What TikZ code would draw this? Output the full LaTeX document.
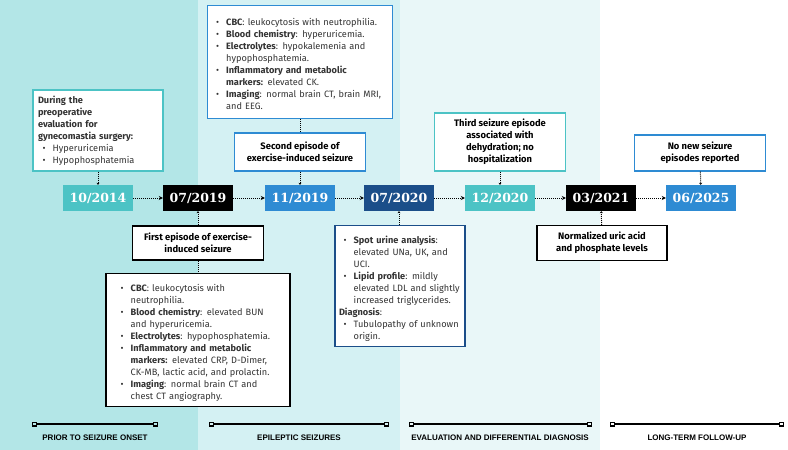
\documentclass[tikz,border=0pt]{standalone}
\usepackage{fontspec}
\setmainfont{Fira Sans}
\newfontfamily\datefont{DejaVu Serif}
\newfontfamily\lblfont{Liberation Sans}
\usetikzlibrary{arrows.meta}
\definecolor{bgA}{HTML}{B3E6E7}
\definecolor{bgB}{HTML}{D4F1F3}
\definecolor{bgC}{HTML}{E9F7F8}
\definecolor{cteal}{HTML}{4CC3C5}
\definecolor{cblue}{HTML}{2E8BD3}
\definecolor{cnavy}{HTML}{1B4E89}
\definecolor{txt}{HTML}{333333}
\newcommand{\itm}[1]{\par\hangindent=1.6em\hangafter=1\hspace*{0.5em}\makebox[1.1em][l]{\textbullet}#1\par}
\tikzset{
 x=1pt,y=-1pt,
 date/.style={fill=#1,text=white,font=\datefont\bfseries\fontsize{12.5}{14}\selectfont,minimum width=70,minimum height=26,inner sep=0},
 box/.style={draw=#1,line width=1.1pt,fill=white,inner sep=4pt,font=\fontsize{9.2}{12}\selectfont\color{txt}},
 hd/.style={font=\bfseries\fontsize{9.4}{12}\selectfont,align=center},
 con/.style={densely dotted,line width=1pt,-{Stealth[length=4pt,width=4pt]}},
 cons/.style={densely dotted,line width=1pt,-{Stealth[length=2pt,width=3pt]}},
 conn/.style={densely dotted,line width=1pt},
 seg/.style={line width=1.2pt,{Square[open,length=5pt,width=5pt]}-{Square[open,length=5pt,width=5pt]}},
 lbl/.style={font=\lblfont\bfseries\fontsize{8}{9}\selectfont}
}
\begin{document}
\begin{tikzpicture}
\useasboundingbox (0,0) rectangle (788,450);
\fill[bgA] (0,0) rectangle (198,450);
\fill[bgB] (198,0) rectangle (400,450);
\fill[bgC] (400,0) rectangle (600,450);
% dates
\node[date=cteal] (d1) at (98,198) {10/2014};
\node[date=black] (d2) at (198,198) {07/2019};
\node[date=cblue] (d3) at (300,198) {11/2019};
\node[date=cnavy] (d4) at (399,198) {07/2020};
\node[date=cteal] (d5) at (500,198) {12/2020};
\node[date=black] (d6) at (601,198) {03/2021};
\node[date=cblue] (d7) at (701,198) {06/2025};
\foreach \a/\b in {d1/d2,d2/d3,d3/d4,d4/d5,d5/d6,d6/d7} \draw[con] (\a) -- (\b);
% boxes
\node[box=cteal,minimum width=130,minimum height=81,text width=120] (bA) at (98,130.5) {\raggedright\textbf{During the\\preoperative\\evaluation for\\gynecomastia surgery:}\itm{Hyperuricemia}\itm{Hypophosphatemia}};
\node[box=cblue,minimum width=185,minimum height=113,text width=177] (bT) at (300,62) {\raggedright
\itm{\textbf{CBC}: leukocytosis with neutrophilia.}\itm{\textbf{Blood chemistry}: hyperuricemia.}\itm{\textbf{Electrolytes}: hypokalemenia and\newline hypophosphatemia.}\itm{\textbf{Inflammatory and metabolic\newline markers:} elevated CK.}\itm{\textbf{Imaging}: normal brain CT, brain MRI,\newline and EEG.}};
\node[box=cblue,minimum width=131,minimum height=38,hd] (bS) at (300,152) {Second episode of\\exercise-induced seizure};
\node[box=black,minimum width=131,minimum height=34,hd] (bF) at (198,243) {First episode of exercise-\\induced seizure};
\node[box=black,minimum width=184,minimum height=133,text width=164] (bC) at (198,340) {\raggedright
\itm{\textbf{CBC}: leukocytosis with\newline neutrophilia.}\itm{\textbf{Blood chemistry}: elevated BUN\newline and hyperuricemia.}\itm{\textbf{Electrolytes}: hypophosphatemia.}\itm{\textbf{Inflammatory and metabolic\newline markers:} elevated CRP, D-Dimer,\newline CK-MB, lactic acid, and prolactin.}\itm{\textbf{Imaging}: normal brain CT and\newline chest CT angiography.}};
\node[box=cnavy,minimum width=130,minimum height=121,text width=122] (bE) at (400,286) {\raggedright
\itm{\textbf{Spot urine analysis}:\newline elevated UNa, UK, and\newline UCI.}\itm{\textbf{Lipid profile}: mildly\newline elevated LDL and slightly\newline increased triglycerides.}\textbf{Diagnosis}:\itm{Tubulopathy of unknown\newline origin.}};
\node[box=cteal,minimum width=131,minimum height=58,hd] (bH) at (500,142) {Third seizure episode\\associated with\\dehydration; no\\hospitalization};
\node[box=black,minimum width=130,minimum height=35,hd] (bN) at (602,243) {Normalized uric acid\\and phosphate levels};
\node[box=cblue,minimum width=131,minimum height=36,hd] (bX) at (700,153) {No new seizure\\episodes reported};
% connectors
\draw[cons] (bA) -- (d1);
\draw[cons] (bS) -- (d3);
\draw[conn] (bT) -- (bS);
\draw[cons] (bF) -- (d2);
\draw[conn] (bF) -- (bC);
\draw[cons] (bE.north -| d4) -- (d4);
\draw[cons] (bH) -- (d5);
\draw[cons] (bN) -- (d6);
\draw[cons] (bX) -- (d7);
% phases
\coordinate (s1a) at (32,424); \coordinate (s1b) at (158,424);
\coordinate (s2a) at (209,424); \coordinate (s2b) at (389,424);
\coordinate (s3a) at (409,424); \coordinate (s3b) at (592,424);
\coordinate (s4a) at (610,424); \coordinate (s4b) at (784,424);
\draw[seg] (s1a) -- (s1b); \draw[seg] (s2a) -- (s2b);
\draw[seg] (s3a) -- (s3b); \draw[seg] (s4a) -- (s4b);
\node[lbl] (l1) at (95,438) {PRIOR TO SEIZURE ONSET};
\node[lbl] (l2) at (299,438) {EPILEPTIC SEIZURES};
\node[lbl] (l3) at (500,438) {EVALUATION AND DIFFERENTIAL DIAGNOSIS};
\node[lbl] (l4) at (697,438) {LONG-TERM FOLLOW-UP};
\end{tikzpicture}
\end{document}
